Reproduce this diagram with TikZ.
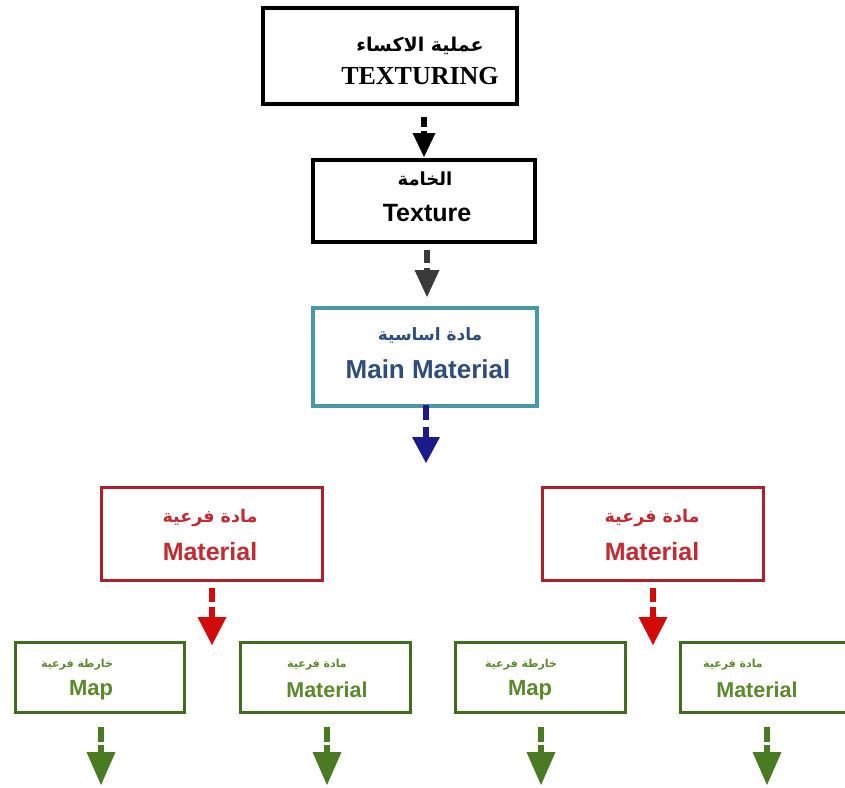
\documentclass[tikz,border=0pt]{standalone}
\usepackage{fontspec}
\setmainfont{Liberation Sans}
\newfontfamily\serifbf{Liberation Serif}
\newfontfamily\arabicfont[Script=Arabic]{DejaVu Sans}
\TeXXeTstate=1
\usetikzlibrary{arrows.meta}
\definecolor{tealb}{HTML}{4A98A6}
\definecolor{mmtext}{HTML}{2F4D7C}
\definecolor{navyar}{HTML}{1A1A8A}
\definecolor{redb}{HTML}{B0202C}
\definecolor{redtext}{HTML}{C42A30}
\definecolor{redar}{HTML}{D20A0A}
\definecolor{greenb}{HTML}{3E6E1E}
\definecolor{greentext}{HTML}{5A8A2C}
\definecolor{greenar}{HTML}{4A7A22}
\definecolor{grayar}{HTML}{3A3A3A}
\tikzset{
  box/.style={draw, rectangle, inner sep=0pt},
  txt/.style={inner sep=0pt, anchor=center},
  flowarrow/.style n args={4}{line width=6pt, dash pattern=on #1pt off #2pt on 400pt,
    -{Triangle[width=#3pt,length=#4pt,line width=0pt]}}
}
\begin{document}
\begin{tikzpicture}[x=1pt,y=-1pt]
\useasboundingbox (0,0) rectangle (845,787);
% boxes
\node[box, line width=4pt, minimum width=254pt, minimum height=96pt] (b1) at (390,56) {};
\node[box, line width=4pt, minimum width=222pt, minimum height=82pt] (b2) at (424,201) {};
\node[box, tealb, line width=3.5pt, minimum width=224pt, minimum height=98pt] (b3) at (425,357) {};
\node[box, redb, line width=3pt, minimum width=221pt, minimum height=93pt] (b4l) at (211.5,533.5) {};
\node[box, redb, line width=3pt, minimum width=221pt, minimum height=93pt] (b4r) at (652.5,533.5) {};
\node[box, greenb, line width=3pt, minimum width=169pt, minimum height=70pt] (g1) at (99.5,677) {};
\node[box, greenb, line width=3pt, minimum width=170pt, minimum height=70pt] (g2) at (325,677) {};
\node[box, greenb, line width=3pt, minimum width=170pt, minimum height=70pt] (g3) at (540,677) {};
\node[box, greenb, line width=3pt, minimum width=172pt, minimum height=70pt] (g4) at (766,677) {};
% texts
\node[txt, font=\arabicfont\bfseries\fontsize{19}{20}\selectfont] (t1a) at (420,46) {\beginR عملية الاكساء\endR};
\node[txt, font=\serifbf\bfseries\fontsize{26}{28}\selectfont] (t1b) at (420,76) {TEXTURING};
\node[txt, font=\arabicfont\bfseries\fontsize{18}{20}\selectfont] (t2a) at (425,179) {\beginR الخامة\endR};
\node[txt, font=\bfseries\fontsize{25}{27}\selectfont] (t2b) at (427,213) {Texture};
\node[txt, mmtext, font=\arabicfont\bfseries\fontsize{17}{19}\selectfont] (t3a) at (430,335) {\beginR مادة اساسية\endR};
\node[txt, mmtext, font=\bfseries\fontsize{26}{28}\selectfont] (t3b) at (428,369) {Main Material};
\node[txt, redtext, font=\arabicfont\bfseries\fontsize{17.5}{19}\selectfont] (t4la) at (210,518) {\beginR مادة فرعية\endR};
\node[txt, redtext, font=\bfseries\fontsize{25}{27}\selectfont] (t4lb) at (210,552) {Material};
\node[txt, redtext, font=\arabicfont\bfseries\fontsize{17.5}{19}\selectfont] (t4ra) at (652,518) {\beginR مادة فرعية\endR};
\node[txt, redtext, font=\bfseries\fontsize{25}{27}\selectfont] (t4rb) at (652,552) {Material};
\node[txt, greentext, font=\arabicfont\bfseries\fontsize{11}{13}\selectfont] (g1a) at (77,665) {\beginR خارطة فرعية\endR};
\node[txt, greentext, font=\bfseries\fontsize{22}{24}\selectfont] (g1b) at (91,690) {Map};
\node[txt, greentext, font=\arabicfont\bfseries\fontsize{11}{13}\selectfont] (g2a) at (317,665) {\beginR مادة فرعية\endR};
\node[txt, greentext, font=\bfseries\fontsize{21.5}{24}\selectfont] (g2b) at (327,690) {Material};
\node[txt, greentext, font=\arabicfont\bfseries\fontsize{11}{13}\selectfont] (g3a) at (521,665) {\beginR خارطة فرعية\endR};
\node[txt, greentext, font=\bfseries\fontsize{22}{24}\selectfont] (g3b) at (530,690) {Map};
\node[txt, greentext, font=\arabicfont\bfseries\fontsize{11}{13}\selectfont] (g4a) at (733,665) {\beginR مادة فرعية\endR};
\node[txt, greentext, font=\bfseries\fontsize{21.5}{24}\selectfont] (g4b) at (757,690) {Material};
% arrow coordinates
\coordinate (a1s) at (424,117); \coordinate (a1e) at (424,157);
\coordinate (a2s) at (427,250); \coordinate (a2e) at (427,297);
\coordinate (a3s) at (426,405); \coordinate (a3e) at (426,463);
\coordinate (a4ls) at (212,588); \coordinate (a4le) at (212,645);
\coordinate (a4rs) at (653,588); \coordinate (a4re) at (653,645);
\coordinate (ag1s) at (101,727); \coordinate (ag1e) at (101,785);
\coordinate (ag2s) at (327,727); \coordinate (ag2e) at (327,785);
\coordinate (ag3s) at (541,727); \coordinate (ag3e) at (541,785);
\coordinate (ag4s) at (767,727); \coordinate (ag4e) at (767,785);
% arrows
\draw[flowarrow={10}{4}{23}{24}, black] (a1s) -- (a1e);
\draw[flowarrow={13}{5}{25}{27}, grayar] (a2s) -- (a2e);
\draw[flowarrow={15}{7}{28}{26}, navyar] (a3s) -- (a3e);
\draw[flowarrow={14}{5}{29}{28}, redar] (a4ls) -- (a4le);
\draw[flowarrow={14}{5}{29}{28}, redar] (a4rs) -- (a4re);
\draw[flowarrow={15}{3}{29}{33}, greenar] (ag1s) -- (ag1e);
\draw[flowarrow={15}{3}{29}{33}, greenar] (ag2s) -- (ag2e);
\draw[flowarrow={15}{3}{29}{33}, greenar] (ag3s) -- (ag3e);
\draw[flowarrow={15}{3}{29}{33}, greenar] (ag4s) -- (ag4e);
\end{tikzpicture}
\end{document}
